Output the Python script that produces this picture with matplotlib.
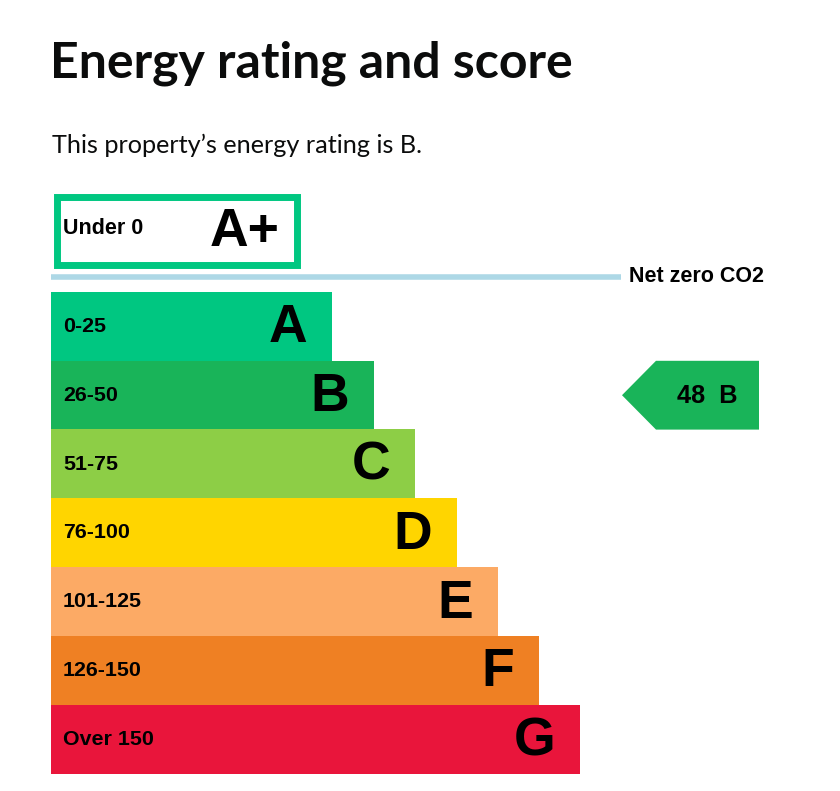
import matplotlib.pyplot as plt
from matplotlib.patches import Rectangle, Polygon

# EPC bands
bands = ["A", "B", "C", "D", "E", "F", "G"]
ranges = ["0-25", "26-50", "51-75", "76-100", "101-125", "126-150", "Over 150"]
colors = ["#00c781", "#19b459", "#8dce46", "#ffd500", "#fcaa65", "#ef8023", "#e9153b"]
bar_len = [281, 323, 364, 406, 447, 488, 529]  # length of each band bar

current_score = 48
current_band = "B"

plt.rcParams['font.family'] = ['Liberation Sans', 'DejaVu Sans']

fig = plt.figure(figsize=(8.4, 7.91), dpi=100)
ax = fig.add_axes([0, 0, 1, 1])
ax.set_xlim(0, 840)
ax.set_ylim(791, 0)
ax.axis("off")

# title + subtitle
ax.text(50, 77, "Energy rating and score", fontsize=36, fontweight="bold", va="baseline", ha="left",
        color="#0b0c0c", family=["Lato", "DejaVu Sans"])
ax.text(52, 153, "This property\u2019s energy rating is " + current_band + ".", fontsize=18.2, va="baseline",
        ha="left", color="#0b0c0c", family=["Lato", "DejaVu Sans"])

# A+ box
ax.add_patch(Rectangle((56.5, 196.5), 240, 68, fill=False, edgecolor="#00c781", linewidth=5))
ax.text(63, 229, "Under 0", fontsize=15.5, fontweight="bold", va="center")
ax.text(280, 232, "A+", fontsize=38.5, fontweight="bold", va="center", ha="right")

# net zero line
ax.plot([51, 621], [277, 277], color="#add8e6", linewidth=4, solid_capstyle="butt")
ax.text(629, 277, "Net zero CO2", fontsize=15.5, fontweight="bold", va="center")

# bands
left = 51
top = 292
row_h = 68.8
ys = [top + row_h * i + row_h / 2 for i in range(len(bands))]
ax.barh(ys, bar_len, left=left, height=row_h + 0.3, color=colors)
for y, b, r, w in zip(ys, bands, ranges, bar_len):
    ax.text(63, y, r, fontsize=15.4, fontweight="bold", va="center")
    ax.text(left + w - 25, y + 2, b, fontsize=38.5, fontweight="bold", va="center", ha="right")

# current rating arrow
i = bands.index(current_band)
yc = ys[i]
h = row_h / 2
ax.add_patch(Polygon([(622, yc), (656, yc - h), (759, yc - h), (759, yc + h), (656, yc + h)],
                     closed=True, color=colors[i], linewidth=0))
ax.text(707, yc + 1, f"{current_score}  {current_band}", fontsize=18.3, fontweight="bold", va="center", ha="center")

fig.savefig("out.png", dpi=100)
